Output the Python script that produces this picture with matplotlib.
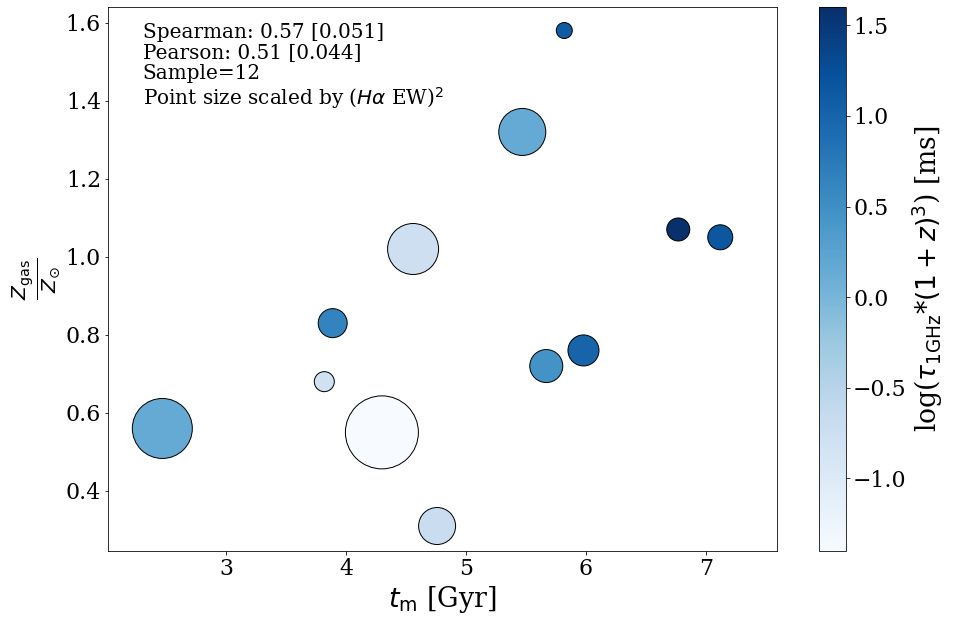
import matplotlib.pyplot as plt
import numpy as np

plt.rcParams['font.family'] = 'DejaVu Serif'

# values
t_m = [2.47, 3.89, 3.82, 4.30, 4.76, 5.82, 5.47, 4.56, 6.77, 7.12, 5.67, 5.98]
z_gas = [0.56, 0.83, 0.68, 0.55, 0.31, 1.58, 1.32, 1.02, 1.07, 1.05, 0.72, 0.76]
log_tau = [0.15, 0.64, -0.80, -1.40, -0.70, 1.10, 0.15, -0.75, 1.60, 1.15, 0.46, 1.00]
ha_ew = [60, 29, 20, 73, 37, 16, 47, 51, 23, 25, 33, 31]

stats_text = ('Spearman: 0.57 [0.051]\n'
              'Pearson: 0.51 [0.044]\n'
              'Sample=12\n'
              r'Point size scaled by ($H\alpha$ EW)$^2$')

fig = plt.figure(figsize=(958 / 72, 623 / 72), dpi=72)
ax = fig.add_axes([0.1127, 0.1156, 0.698, 0.873])
cax = fig.add_axes([0.855, 0.1156, 0.0282, 0.873])

sizes = np.array(ha_ew) ** 2
sc = ax.scatter(t_m, z_gas, s=sizes, c=log_tau, cmap='Blues',
                edgecolors='black', linewidths=1)

ax.set_xlim(2.017, 7.59)
ax.set_ylim(0.246, 1.640)
ax.tick_params(labelsize=22)
ax.set_xlabel(r'$t_{\rm m}$ [Gyr]', fontsize=27)
ax.set_ylabel(r'$\frac{Z_{\rm gas}}{Z_{\odot}}$', fontsize=29)

ax.text(0.052, 0.97, stats_text, transform=ax.transAxes, fontsize=20,
        va='top', ha='left', linespacing=1.1)

cb = fig.colorbar(sc, cax=cax)
cb.ax.tick_params(labelsize=22)
cb.set_label(r'log($\tau_{\rm 1GHz}$*$(1+z)^3$) [ms]', fontsize=26.5)

fig.savefig('out.png', dpi=72)
plt.close()
